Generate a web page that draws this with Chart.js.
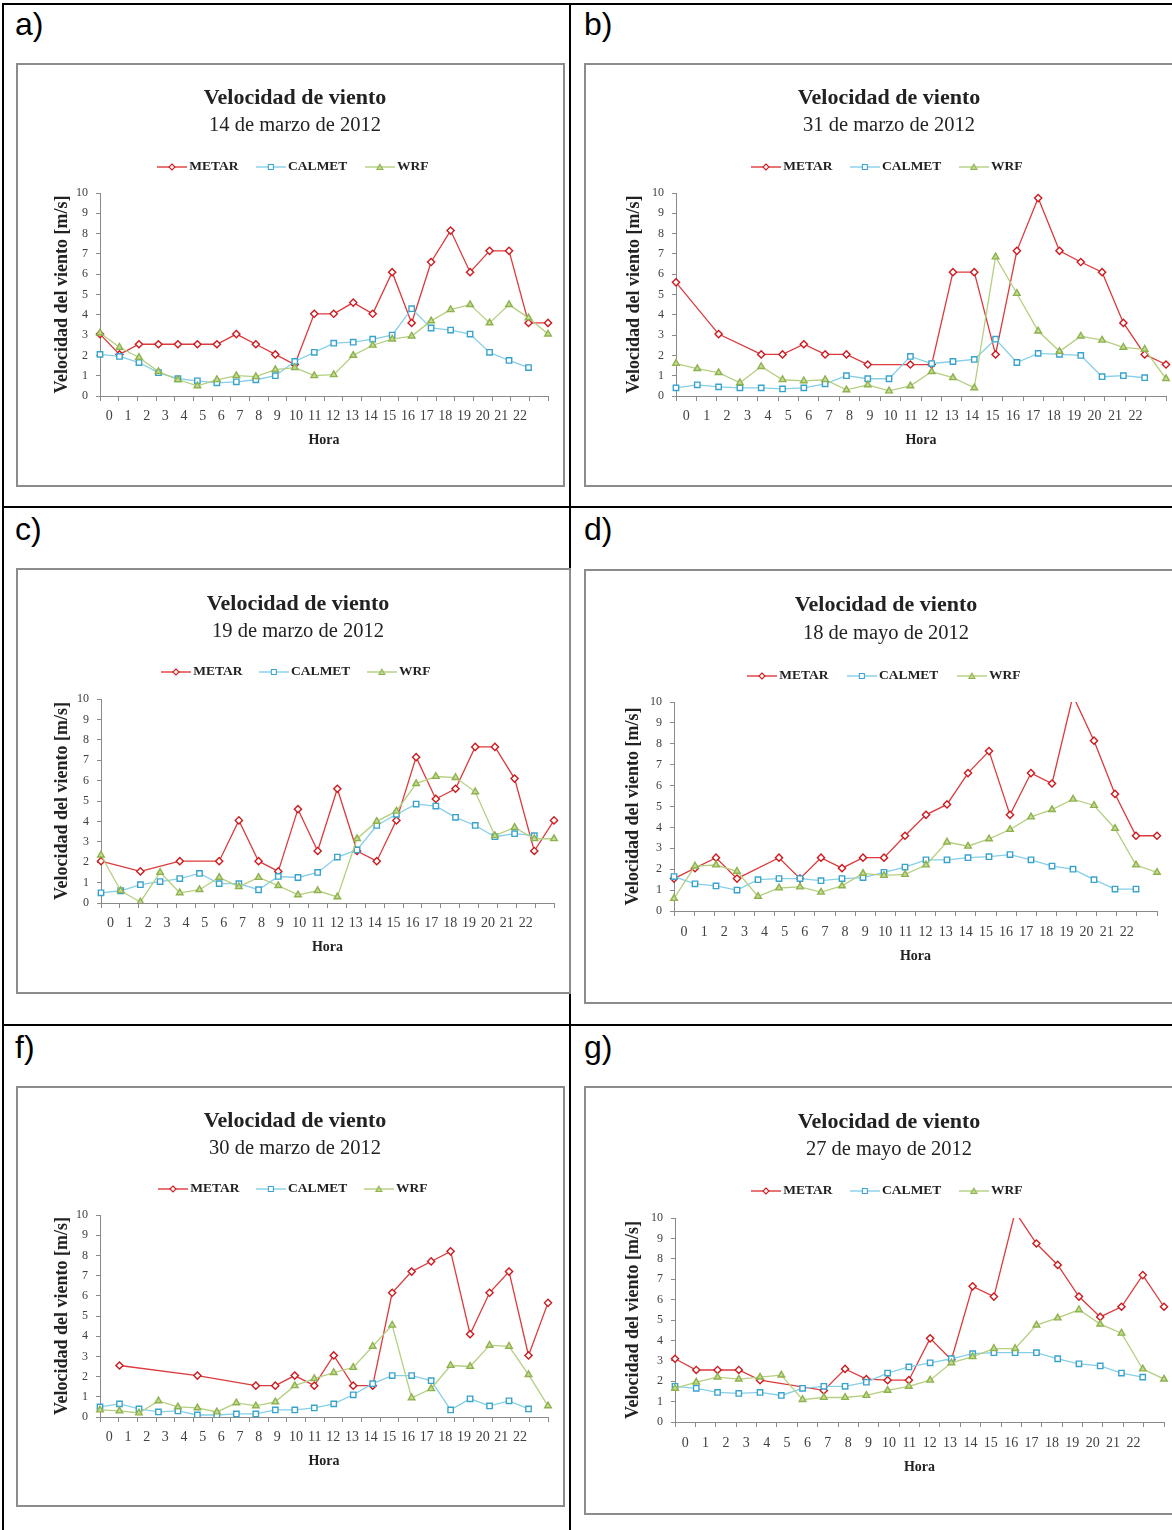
<!DOCTYPE html>
<html>
<head>
<meta charset="utf-8">
<script src="https://cdn.jsdelivr.net/npm/chart.js@4.4.0/dist/chart.umd.min.js"></script>
<style>
html, body { margin: 0; padding: 0; background: #fff; }
body { width: 1172px; height: 1530px; position: relative; overflow: hidden; }
.rule { position: absolute; background: #000; }
.lbl { position: absolute; font-family: "Liberation Sans Narrow", "Liberation Sans", sans-serif; font-size: 32px; line-height: 1; color: #000; }
.box { position: absolute; border: 2px solid #8c8c8c; box-sizing: border-box; background: #fff; }
.box canvas { position: absolute; left: 0; top: 0; }
#box-g canvas { filter: blur(0.5px); }
</style>
</head>
<body>
<div class="rule" style="left:2px;top:3px;width:2px;height:1527px"></div>
<div class="rule" style="left:2px;top:3px;width:1170px;height:2px"></div>
<div class="rule" style="left:569px;top:3px;width:2px;height:1527px"></div>
<div class="rule" style="left:2px;top:506px;width:1170px;height:2px"></div>
<div class="rule" style="left:2px;top:1024px;width:1170px;height:2px"></div>

<div class="lbl" style="left:15px;top:8px">a)</div>
<div class="lbl" style="left:584px;top:8px">b)</div>
<div class="lbl" style="left:15px;top:513px">c)</div>
<div class="lbl" style="left:584px;top:513px">d)</div>
<div class="lbl" style="left:15px;top:1031px">f)</div>
<div class="lbl" style="left:584px;top:1031px">g)</div>

<script>
const horas = ['0','1','2','3','4','5','6','7','8','9','10','11','12','13','14','15','16','17','18','19','20','21','22',''];

const metarA  = [3.05,2.05,2.55,2.55,2.55,2.55,2.55,3.05,2.55,2.05,1.55,4.05,4.05,4.6,4.05,6.1,3.6,6.6,8.15,6.1,7.15,7.15,3.6,3.6];
const calmetA = [2.05,1.95,1.65,1.15,0.85,0.75,0.65,0.7,0.8,1.0,1.7,2.15,2.6,2.65,2.8,3.0,4.3,3.35,3.25,3.05,2.15,1.75,1.4,null];
const wrfA    = [3.1,2.4,1.9,1.2,0.8,0.5,0.8,1.0,0.95,1.3,1.4,1.0,1.05,2.0,2.5,2.8,2.95,3.7,4.25,4.5,3.6,4.5,3.85,3.05];

const metarB  = [5.6,null,3.05,null,2.05,2.05,2.55,2.05,2.05,1.55,null,1.55,1.55,6.1,6.1,2.05,7.15,9.75,7.15,6.6,6.1,3.6,2.05,1.55];
const calmetB = [0.4,0.55,0.45,0.4,0.4,0.35,0.4,0.6,1.0,0.85,0.85,1.95,1.6,1.7,1.8,2.8,1.65,2.1,2.05,2.0,0.95,1.0,0.9,null];
const wrfB    = [1.6,1.35,1.15,0.65,1.45,0.8,0.75,0.8,0.3,0.55,0.25,0.5,1.2,0.9,0.4,6.85,5.05,3.2,2.2,2.95,2.75,2.4,2.3,0.85];

const metarC  = [2.05,null,1.55,null,2.05,null,2.05,4.05,2.05,1.55,4.6,2.55,5.6,2.55,2.05,4.05,7.15,5.1,5.6,7.65,7.65,6.1,2.55,4.05];
const calmetC = [0.5,0.6,0.9,1.05,1.2,1.45,0.95,0.95,0.65,1.3,1.25,1.5,2.25,2.6,3.8,4.35,4.85,4.75,4.2,3.8,3.25,3.4,3.3,null];
const wrfC    = [2.35,0.6,0.05,1.5,0.5,0.65,1.25,0.8,1.25,0.85,0.4,0.6,0.3,3.15,4.0,4.5,5.85,6.2,6.15,5.45,3.3,3.7,3.15,3.15];

const metarD  = [1.55,2.05,2.55,1.55,null,2.55,1.55,2.55,2.05,2.55,2.55,3.6,4.6,5.1,6.6,7.65,4.6,6.6,6.1,10.3,8.15,5.6,3.6,3.6];
const calmetD = [1.65,1.3,1.2,1.0,1.5,1.55,1.55,1.45,1.55,1.6,1.85,2.1,2.45,2.45,2.55,2.6,2.7,2.45,2.15,2.0,1.5,1.05,1.05,null];
const wrfD    = [0.6,2.15,2.2,1.9,0.7,1.1,1.15,0.9,1.2,1.8,1.7,1.75,2.2,3.3,3.1,3.45,3.9,4.5,4.85,5.35,5.05,3.95,2.2,1.85];

const metarF  = [null,2.55,null,null,null,2.05,null,null,1.55,1.55,2.05,1.55,3.05,1.55,1.55,6.15,7.2,7.7,8.2,4.1,6.15,7.2,3.05,5.65];
const calmetF = [0.5,0.65,0.4,0.25,0.3,0.1,0.1,0.15,0.15,0.35,0.35,0.45,0.65,1.1,1.65,2.05,2.05,1.8,0.35,0.9,0.55,0.8,0.4,null];
const wrfF    = [0.35,0.3,0.2,0.8,0.5,0.45,0.25,0.7,0.55,0.75,1.55,1.9,2.2,2.45,3.5,4.55,0.95,1.4,2.55,2.5,3.55,3.5,2.1,0.55];

const metarG  = [3.1,2.55,2.55,2.55,2.05,null,null,1.55,2.6,2.1,2.05,2.05,4.1,3.05,6.65,6.15,10.3,8.75,7.7,6.15,5.15,5.65,7.2,5.65];
const calmetG = [1.75,1.65,1.45,1.4,1.45,1.3,1.65,1.75,1.75,1.95,2.4,2.7,2.9,3.1,3.35,3.4,3.4,3.4,3.1,2.85,2.75,2.4,2.2,null];
const wrfG    = [1.65,1.95,2.2,2.1,2.2,2.3,1.1,1.2,1.2,1.3,1.55,1.75,2.05,2.9,3.2,3.6,3.6,4.75,5.1,5.5,4.8,4.35,2.6,2.1];

const panels = [
  { id: 'a', fecha: '14 de marzo de 2012', metar: metarA, calmet: calmetA, wrf: wrfA },
  { id: 'b', fecha: '31 de marzo de 2012', metar: metarB, calmet: calmetB, wrf: wrfB },
  { id: 'c', fecha: '19 de marzo de 2012', metar: metarC, calmet: calmetC, wrf: wrfC },
  { id: 'd', fecha: '18 de mayo de 2012',  metar: metarD, calmet: calmetD, wrf: wrfD },
  { id: 'f', fecha: '30 de marzo de 2012', metar: metarF, calmet: calmetF, wrf: wrfF },
  { id: 'g', fecha: '27 de mayo de 2012',  metar: metarG, calmet: calmetG, wrf: wrfG },
];

// page geometry: box edges, plot left/right, title centre, y title centre,
// and offsets from box top: title, subtitle, legend, plot top, plot bottom, tick labels, "Hora"
const geom = {
  a: { box: [16, 63, 565, 487],    plot: [100, 548],  title: 300, yTitle: 62,  v: [35, 63, 104, 130, 333, 353, 377] },
  b: { box: [584, 63, 1176, 487],  plot: [676, 1166], title: 894, yTitle: 634, v: [35, 63, 104, 130, 333, 353, 377] },
  c: { box: [16, 568, 571, 994],   plot: [101, 554],  title: 303, yTitle: 62,  v: [36, 64, 104, 131, 335, 355, 379] },
  d: { box: [584, 569, 1176, 1004],plot: [674, 1157], title: 891, yTitle: 633, v: [36, 65, 107, 133, 342, 363, 387] },
  f: { box: [16, 1086, 565, 1507], plot: [100, 548],  title: 300, yTitle: 62,  v: [35, 63, 103, 129, 331, 351, 375] },
  g: { box: [584, 1086, 1176, 1515],plot: [675, 1164],title: 894, yTitle: 633, v: [36, 64, 105, 132, 336, 357, 381] },
};

const SERIF = "'Liberation Serif', 'DejaVu Serif', serif";
const INK = '#222';
const TF = 22, SF = 20.5, LF = 13.5, XF = 14, HF = 14, YF = 18;

const colores = {
  metar:  { line: '#dc3a3c', mark: '#cc1a1f', fill: '#ffffff', style: 'rectRot', r: 3.6 },
  calmet: { line: '#86cfe6', mark: '#3aa3cc', fill: '#ffffff', style: 'rect', r: 3.8 },
  wrf:    { line: '#b4cf80', mark: '#8fb24e', fill: '#c2da92', style: 'triangle', r: 3.8 },
};

function icono(c) {
  const cv = document.createElement('canvas');
  cv.width = 30; cv.height = 10;
  const g = cv.getContext('2d');
  g.strokeStyle = c.line; g.lineWidth = 1.4;
  g.beginPath(); g.moveTo(0, 5); g.lineTo(30, 5); g.stroke();
  g.fillStyle = c.fill; g.strokeStyle = c.mark; g.lineWidth = 1.1;
  g.beginPath();
  if (c.style === 'rectRot') { g.moveTo(15, 2); g.lineTo(18, 5); g.lineTo(15, 8); g.lineTo(12, 5); g.closePath(); }
  else if (c.style === 'rect') { g.rect(12.5, 2.5, 5, 5); }
  else { g.moveTo(15, 2.2); g.lineTo(18, 7.5); g.lineTo(12, 7.5); g.closePath(); }
  g.fill(); g.stroke();
  return cv;
}
const iconos = [icono(colores.metar), icono(colores.calmet), icono(colores.wrf)];

function serie(label, data, c, order) {
  return {
    label, data, order,
    borderColor: c.line, backgroundColor: c.fill,
    borderWidth: 1.3, tension: 0, spanGaps: true,
    pointStyle: c.style, pointRadius: c.r, pointHoverRadius: c.r,
    pointBorderColor: c.mark, pointBackgroundColor: c.fill, pointBorderWidth: 1.4,
  };
}

panels.forEach(p => {
  const G = geom[p.id];
  const [bx0, by0, bx1, by1] = G.box;
  const [t1, t2, t3, pt, pb, lb, h] = G.v;
  const bb = by1 - by0;
  const W = bx1 - bx0 - 4, H = bb - 4;
  const cx0 = bx0 + 2;

  const centro = G.title - 5 - cx0;
  const padR = W - (G.plot[1] - cx0);
  const padL = 2 * centro - W + padR;
  const yWidth = (G.plot[0] - cx0) - padL;
  const yTitlePad = (G.yTitle - cx0) - padL - YF * 0.6;

  const titlePad = (t1 - 2) - TF * 0.6;
  const subPad = (t2 - t1) - TF * 0.6 - SF * 0.6;
  const legPad = (t3 - 2 - LF / 2) - (t2 - 2 + SF * 0.6);
  const spacer = (pt - 2) - (t3 - 2 + LF / 2 + 10);
  const xHeight = (bb - 2) - pb;
  const xTickPad = (lb - pb) - 5 - XF * 0.6;
  const horaPad = (bb - 2 - h) - HF * 0.6;

  const box = document.createElement('div');
  box.className = 'box';
  box.id = 'box-' + p.id;
  box.style.left = bx0 + 'px'; box.style.top = by0 + 'px';
  box.style.width = (bx1 - bx0) + 'px'; box.style.height = bb + 'px';
  const cv = document.createElement('canvas');
  cv.width = W; cv.height = H;
  box.appendChild(cv);
  document.body.appendChild(box);

  new Chart(cv, {
    type: 'line',
    data: {
      labels: horas,
      datasets: [
        serie('METAR', p.metar, colores.metar, 3),
        serie('CALMET', p.calmet, colores.calmet, 2),
        serie('WRF', p.wrf, colores.wrf, 1),
      ],
    },
    options: {
      responsive: false,
      animation: false,
      devicePixelRatio: 1,
      layout: { padding: { left: padL, right: padR, top: 0, bottom: 0 } },
      plugins: {
        title: {
          display: true, text: 'Velocidad de viento', color: INK,
          font: { family: SERIF, size: TF, weight: 'bold' },
          padding: { top: titlePad, bottom: 0 },
        },
        subtitle: {
          display: true, text: p.fecha, color: INK,
          font: { family: SERIF, size: SF },
          padding: { top: subPad, bottom: 0 },
        },
        legend: {
          display: true,
          labels: {
            usePointStyle: true, pointStyleWidth: 21, padding: legPad,
            color: INK, font: { family: SERIF, size: LF, weight: 'bold' },
            generateLabels: chart => Chart.defaults.plugins.legend.labels.generateLabels(chart)
              .sort((a, b) => a.datasetIndex - b.datasetIndex)
              .map(it => ({ ...it, pointStyle: iconos[it.datasetIndex] })),
          },
        },
        tooltip: { enabled: false },
      },
      scales: {
        spacer: {
          type: 'category', position: 'top', display: true,
          grid: { display: false }, border: { display: false }, ticks: { display: false },
          afterFit: s => { s.height = spacer; },
        },
        x: {
          type: 'category', offset: true,
          grid: { offset: true, drawOnChartArea: false, tickLength: 5, color: '#8a8a8a' },
          border: { color: '#8a8a8a' },
          ticks: { autoSkip: false, maxRotation: 0, padding: xTickPad, color: '#404040', font: { family: SERIF, size: XF } },
          title: { display: true, text: 'Hora', color: INK, font: { family: SERIF, size: HF, weight: 'bold' }, padding: { top: 0, bottom: horaPad } },
          afterFit: s => { s.height = xHeight; },
        },
        y: {
          min: 0, max: 10,
          grid: { drawOnChartArea: false, tickLength: 4, color: '#8a8a8a' },
          border: { color: '#8a8a8a' },
          ticks: { stepSize: 1, padding: 8, color: '#404040', font: { family: SERIF, size: 12 } },
          title: { display: true, text: 'Velocidad del viento [m/s]', color: INK, font: { family: SERIF, size: YF, weight: 'bold' }, padding: { top: yTitlePad, bottom: 0 } },
          afterFit: s => { s.width = yWidth; },
        },
      },
    },
  });
});
</script>
</body>
</html>
